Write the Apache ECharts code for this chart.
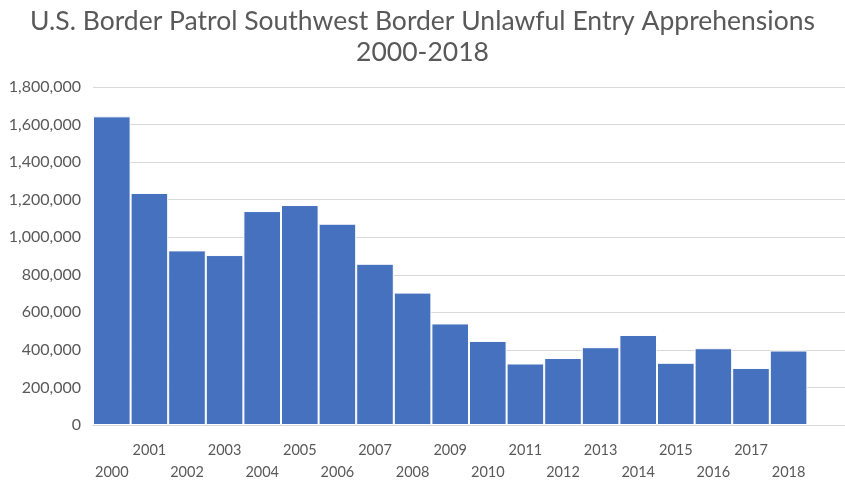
<!DOCTYPE html>
<html><head><meta charset="utf-8">
<script src="https://cdn.jsdelivr.net/npm/echarts@6/dist/echarts.min.js"></script>
<style>html,body{margin:0;padding:0;background:#fff}#c{width:845px;height:483px}</style>
</head><body><div id="c"></div>
<script>
const categories = ['2000','2001','2002','2003','2004','2005','2006','2007','2008','2009','2010','2011','2012','2013','2014','2015','2016','2017','2018',''];
const apprehensions = [1643679,1235718,929809,905065,1139282,1171396,1071972,858638,705005,540865,447731,327577,356873,414397,479371,331333,408870,303916,396579,null];
const titleText = 'U.S. Border Patrol Southwest Border Unlawful Entry Apprehensions\n2000-2018';
const yMax = 1800000, yStep = 200000;

const chart = echarts.init(document.getElementById('c'));
const font = 'Lato, "Open Sans", sans-serif';
chart.setOption({
  animation: false,
  title: {
    text: titleText, left: 'center', top: 1,
    textStyle: { fontFamily: font, fontSize: 26.5, fontWeight: 'normal', color: '#595959', lineHeight: 31 }
  },
  grid: { left: 93, width: 757, top: 87, bottom: 58, containLabel: false },
  xAxis: {
    type: 'category', data: categories,
    axisLine: { lineStyle: { color: '#d9d9d9', width: 1 } },
    axisTick: { show: false },
    axisLabel: {
      interval: 0, color: '#595959', fontFamily: font, fontSize: 14.5, lineHeight: 22, margin: 14,
      formatter: (v, i) => (i % 2 === 0 ? '\n' + v : v)
    }
  },
  yAxis: {
    type: 'value', min: 0, max: yMax, interval: yStep,
    axisLine: { show: false }, axisTick: { show: false },
    splitLine: { lineStyle: { color: '#d9d9d9', width: 1 } },
    axisLabel: {
      color: '#595959', fontFamily: font, fontSize: 16, margin: 12,
      formatter: v => v.toLocaleString('en-US')
    }
  },
  series: [{
    type: 'bar', data: apprehensions, barCategoryGap: '0%',
    itemStyle: { color: '#4571BE', borderColor: '#ffffff', borderWidth: 1 }
  }]
});
</script></body></html>
